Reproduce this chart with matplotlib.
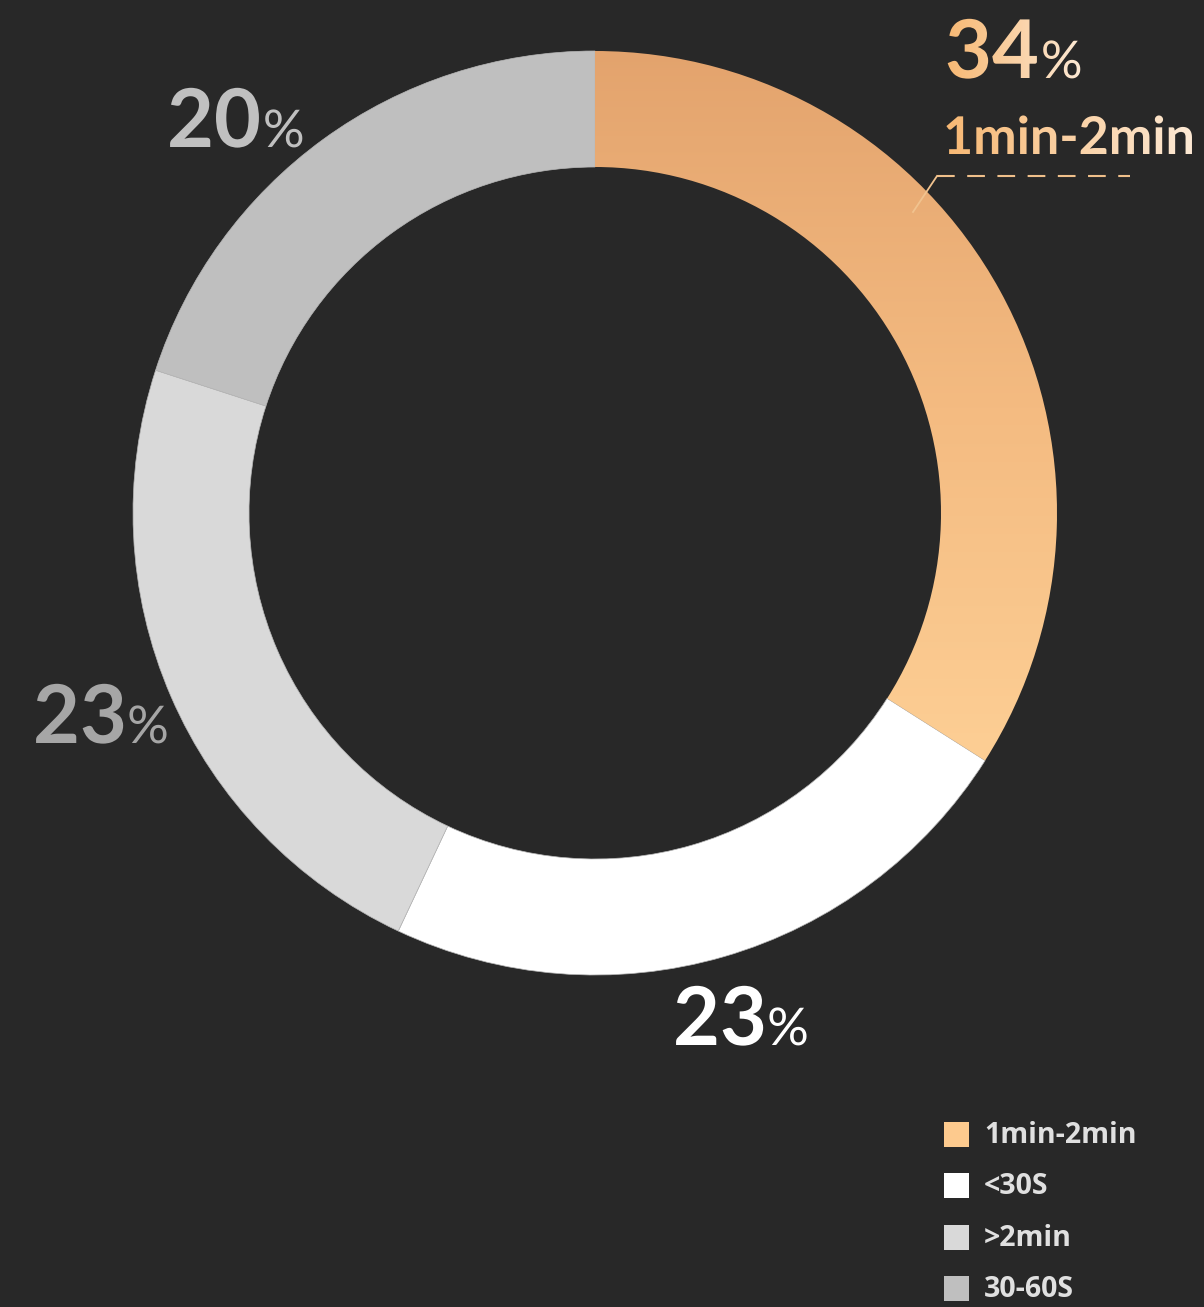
import numpy as np
import matplotlib
matplotlib.use("Agg")
import matplotlib.pyplot as plt
from matplotlib.colors import LinearSegmentedColormap
from matplotlib.patches import Rectangle, PathPatch
from matplotlib.textpath import TextPath
from matplotlib.font_manager import FontProperties
from matplotlib.transforms import Affine2D

# ---- data ----
categories = ["1min-2min", "<30S", ">2min", "30-60S"]
values = [34, 23, 23, 20]
colors = ["#fdca8e", "#ffffff", "#d9d9d9", "#bfbfbf"]
label_colors = ["#fbd2a0", "#ffffff", "#a6a6a6", "#c0c0c0"]

BG = "#282828"
W, H = 1204, 1307
fig = plt.figure(figsize=(W / 100, H / 100), dpi=100, facecolor=BG)
ax = fig.add_axes([0, 0, 1, 1])
ax.set_facecolor(BG)

cx, cy, R, ring = 595, H - 513, 462, 116
wedges, _ = ax.pie(values, colors=colors, startangle=90, counterclock=False,
                   center=(cx, cy), radius=R, frame=True,
                   wedgeprops=dict(width=ring, edgecolor="#b8b8b8", linewidth=0.5))
ax.set_xlim(0, W)
ax.set_ylim(0, H)
ax.set_aspect("equal")
ax.axis("off")

# gradient fill of the first wedge
grad_cmap = LinearSegmentedColormap.from_list("og", ["#e3a36d", "#f4bb81", "#fdcf95"])
wedges[0].set_facecolor("none")
wedges[0].set_edgecolor("none")
g = np.linspace(0, 1, 256).reshape(-1, 1)
im = ax.imshow(g, cmap=grad_cmap, extent=(cx - 5, cx + R + 5, H - 770, H - 45),
               origin="upper", aspect="auto", zorder=1)
im.set_clip_path(wedges[0])

fp = FontProperties(family="Lato", weight="bold")
fp_pct = FontProperties(family="Lato", weight="normal")
text_grad = LinearSegmentedColormap.from_list("tg", ["#f7b873", "#fde9d4"])


def make_path(s, x, y, size, prop):
    tp = TextPath((0, 0), s, size=size, prop=prop)
    return Affine2D().translate(x, y).transform_path(tp)


def pct_label(val, x, base, color, gradient=False):
    p1 = make_path(f"{val}", x, H - base, 81, fp)
    e1 = p1.get_extents()
    p2 = make_path("%", e1.x1 + 4, H - base, 52, fp_pct)
    e2 = p2.get_extents()
    for p in (p1, p2):
        if gradient:
            patch = PathPatch(p, facecolor="none", edgecolor="none")
            ax.add_patch(patch)
            gi = ax.imshow(np.linspace(0, 1, 256).reshape(1, -1), cmap=text_grad,
                           extent=(x, e2.x1, H - base - 5, H - base + 70),
                           aspect="auto", zorder=5)
            gi.set_clip_path(patch)
        else:
            ax.add_patch(PathPatch(p, facecolor=color, edgecolor="none", zorder=5))


pct_label(values[0], 945, 78, label_colors[0], gradient=True)
pct_label(values[1], 673, 1045, label_colors[1])
pct_label(values[2], 33, 743, label_colors[2])
pct_label(values[3], 167, 147, label_colors[3])

# category label for the highlighted slice
cp = make_path(categories[0], 943, H - 154, 52, fp)
ce = cp.get_extents()
cpatch = PathPatch(cp, facecolor="none", edgecolor="none")
ax.add_patch(cpatch)
gi = ax.imshow(np.linspace(0, 1, 256).reshape(1, -1), cmap=text_grad,
               extent=(943, ce.x1, H - 160, H - 110), aspect="auto", zorder=5)
gi.set_clip_path(cpatch)

# leader line
ax.plot([913, 937], [H - 212, H - 176], color="#f1c38f", lw=1.3, zorder=6)
ax.plot([937, 1130], [H - 176, H - 176], color="#efbf8a", lw=1.5, zorder=6,
        dashes=(8.5, 6.0))

# legend
leg_y = [1134, 1185, 1237, 1288]
for cat, col, ly in zip(categories, colors, leg_y):
    ax.add_patch(Rectangle((944, H - ly - 12.5), 25, 25, facecolor=col,
                           edgecolor="none", zorder=5))
    ax.text(984, H - ly - 1.5, cat, color="#e0e0e0", fontsize=20.5, fontfamily="Open Sans",
            fontweight="bold", va="center", ha="left", zorder=5)

ax.set_xlim(0, W)
ax.set_ylim(0, H)
ax.set_aspect("equal")
fig.savefig("out.png", dpi=100, facecolor=BG)
